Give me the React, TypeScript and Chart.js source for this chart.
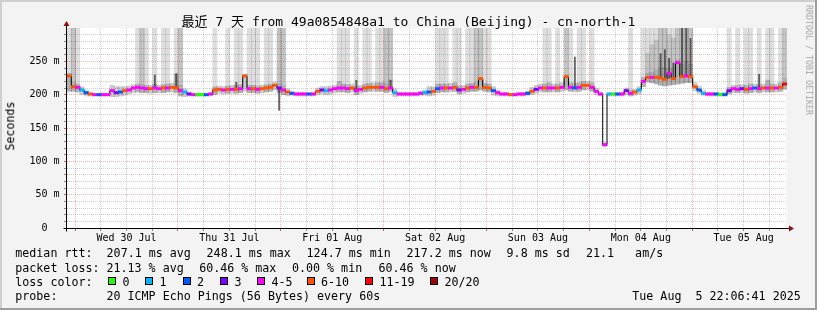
import React, { useEffect, useRef } from "react";
import { Chart, registerables } from "chart.js";

Chart.register(...registerables);

const MONO = "'DejaVu Sans Mono', 'Noto Sans CJK SC', monospace";

// ---------- time axis ----------
const TOTAL_HOURS = 168; // 7 days, one RRA step per hour
const FIRST_MIDNIGHT = 1.888; // hours from graph start to Wed 30 Jul 00:00
const dayLabels = ["Wed 30 Jul", "Thu 31 Jul", "Fri 01 Aug", "Sat 02 Aug", "Sun 03 Aug", "Mon 04 Aug", "Tue 05 Aug"];

// ---------- value axis ----------
const Y_MAX = 300;
const yLabelValues = [0, 50, 100, 150, 200, 250];
const yLabelTexts = ["0  ", "50 m", "100 m", "150 m", "200 m", "250 m"];

// ---------- median rtt (ms), one value per hour ----------
const medianMs = [
  228, 212, 211, 207, 203, 201, 200, 200, 200, 200, 206, 203,
  204, 206, 207, 210, 211, 210, 209, 209, 210, 209, 210, 210,
  211, 210, 206, 204, 201, 200, 200, 200, 200, 201, 207, 208,
  207, 208, 208, 208, 209, 228, 209, 209, 208, 209, 210, 211,
  214, 210, 207, 204, 202, 201, 201, 201, 201, 201, 205, 207,
  206, 207, 209, 210, 210, 209, 210, 206, 208, 210, 211, 211,
  211, 211, 209, 210, 203, 201, 201, 201, 201, 201, 202, 203,
  204, 205, 209, 210, 210, 210, 211, 207, 208, 210, 211, 211,
  224, 211, 210, 206, 203, 201, 201, 200, 200, 201, 201, 202,
  205, 208, 210, 210, 210, 210, 210, 211, 227, 211, 210, 211,
  214, 214, 211, 205, 201, 125, 201, 201, 201, 201, 206, 202,
  204, 207, 220, 226, 226, 226, 225, 223, 232, 224, 248, 227,
  228, 227, 212, 207, 202, 201, 201, 201, 200, 200, 206, 209,
  208, 209, 208, 209, 210, 209, 210, 210, 210, 210, 211, 216,
];

// loss class per hour (index into lossLabels / lossColors)
const lossClass = [
  5, 5, 4, 1, 2, 5, 4, 2, 4, 4, 4, 3,
  2, 5, 4, 4, 4, 4, 4, 5, 4, 4, 5, 4,
  5, 5, 4, 1, 3, 4, 0, 0, 2, 4, 5, 5,
  4, 5, 4, 5, 4, 5, 4, 5, 4, 5, 5, 5,
  5, 3, 4, 5, 2, 4, 4, 4, 2, 4, 5, 3,
  1, 4, 4, 4, 4, 4, 5, 4, 4, 5, 5, 5,
  5, 4, 5, 4, 1, 4, 4, 4, 4, 4, 4, 1,
  2, 5, 2, 4, 5, 4, 5, 3, 4, 5, 4, 5,
  5, 5, 5, 2, 4, 4, 4, 5, 4, 4, 4, 2,
  5, 3, 4, 5, 4, 4, 5, 4, 5, 4, 2, 4,
  5, 5, 4, 4, 4, 4, 1, 0, 2, 4, 3, 4,
  5, 1, 4, 5, 4, 5, 5, 5, 4, 5, 4, 5,
  4, 5, 5, 2, 1, 4, 4, 2, 0, 2, 3, 4,
  4, 3, 5, 4, 2, 4, 5, 4, 5, 4, 5, 6,
];

// smoke band around the median (ms)
const smokeLow = [
  205, 205, 204, 200, 198, 198, 198, 198, 198, 198, 197, 197,
  198, 199, 201, 203, 204, 203, 203, 202, 203, 203, 203, 204,
  204, 203, 198, 197, 198, 198, 198, 198, 198, 198, 200, 202,
  201, 202, 202, 202, 203, 205, 203, 203, 202, 203, 204, 205,
  207, 203, 200, 198, 199, 198, 198, 198, 198, 198, 200, 201,
  200, 201, 203, 204, 204, 203, 204, 200, 202, 204, 205, 205,
  205, 205, 203, 205, 197, 198, 198, 198, 198, 198, 199, 199,
  198, 199, 203, 204, 204, 204, 205, 201, 202, 204, 205, 205,
  207, 205, 204, 199, 198, 198, 198, 198, 198, 198, 198, 199,
  200, 202, 204, 204, 204, 204, 204, 205, 207, 205, 204, 205,
  207, 207, 205, 200, 198, 122, 198, 198, 198, 198, 200, 198,
  199, 201, 212, 219, 218, 216, 214, 213, 214, 215, 216, 217,
  218, 218, 206, 202, 199, 198, 198, 198, 198, 198, 201, 203,
  203, 203, 202, 203, 204, 203, 204, 204, 204, 204, 205, 208,
];
const smokeHigh = [
  232, 218, 216, 212, 206, 203, 202, 202, 202, 202, 214, 212,
  212, 212, 213, 215, 216, 215, 214, 214, 216, 214, 215, 216,
  217, 231, 214, 209, 204, 202, 202, 202, 202, 203, 212, 213,
  212, 213, 214, 214, 215, 231, 214, 214, 213, 214, 215, 216,
  219, 216, 213, 209, 205, 203, 203, 203, 203, 203, 210, 212,
  212, 213, 214, 220, 216, 215, 216, 212, 214, 216, 217, 218,
  218, 218, 216, 222, 209, 203, 203, 203, 203, 203, 205, 207,
  212, 212, 216, 216, 216, 217, 218, 213, 214, 216, 217, 218,
  226, 217, 216, 212, 207, 203, 203, 202, 202, 203, 203, 205,
  211, 214, 216, 216, 218, 216, 216, 218, 229, 218, 217, 218,
  220, 220, 218, 210, 203, 128, 203, 203, 203, 203, 210, 207,
  208, 212, 226, 232, 233, 236, 240, 240, 238, 240, 252, 245,
  250, 245, 218, 213, 206, 203, 203, 203, 203, 203, 211, 214,
  214, 215, 214, 216, 216, 215, 216, 222, 216, 216, 218, 224,
];

// hours whose outlier smoke reaches the top of the graph
const tallSmokeHours = [
  0, 1, 2, 16, 17, 18, 20, 22, 23, 25, 26, 34, 37, 39, 40, 42, 43, 44, 46, 47, 49, 50,
  63, 64, 65, 67, 69, 70, 72, 73, 74, 75, 86, 87, 88, 90, 91, 93, 94, 95, 96, 97, 98,
  111, 112, 114, 116, 117, 119, 120, 122, 131, 134, 135, 136, 137, 138, 139, 140, 141,
  142, 143, 144, 145, 154, 156, 158, 159, 161, 163, 164, 166, 167,
];
// denser outlier smoke: [hour, top ms]
const denseSmoke = [
  [1, 300], [17, 300], [26, 300], [49, 300], [50, 300], [74, 300], [75, 300], [95, 300],
  [96, 300], [116, 300], [135, 262], [136, 275], [137, 282], [138, 300], [139, 300],
  [140, 290], [141, 285], [142, 300], [143, 300], [144, 300], [145, 300], [167, 300],
];
// dark narrow smoke spikes: [hour, low ms, high ms]
const darkSpikes = [
  [20, 210, 230], [25, 210, 232], [39, 208, 219], [49, 176, 210], [67, 206, 222],
  [75, 210, 222], [118, 210, 257], [138, 225, 262], [139, 223, 268], [140, 224, 255],
  [141, 224, 248], [143, 227, 300], [144, 228, 300], [145, 227, 285], [161, 209, 231],
];

const lossLabels = ["0", "1", "2", "3", "4-5", "6-10", "11-19", "20/20"];
const lossColors = ["#26ff00", "#00b8ff", "#0059ff", "#7e00ff", "#ff00ff", "#ff5500", "#ff0000", "#a10000"];

// ---------- texts ----------
const titleText = "最近 7 天 from 49a0854848a1 to China (Beijing) - cn-north-1";
const rttLabel = "median rtt:";
const rttStats = ["207.1 ms avg", "248.1 ms max", "124.7 ms min", "217.2 ms now", "9.8 ms sd", "21.1   am/s"];
const lossLabel = "packet loss:";
const lossStats = ["21.13 % avg", "60.46 % max", "0.00 % min", "60.46 % now"];
const lossColorLabel = "loss color:";
const probeLabel = "probe:";
const probeText = "20 ICMP Echo Pings (56 Bytes) every 60s";
const dateText = "Tue Aug  5 22:06:41 2025";
const yTitle = "Seconds";
const watermark = "RRDTOOL / TOBI OETIKER";

// ---------- layout ----------
const W = 817;
const H = 310;
const rttStatX = [106.6, 206.6, 306.6, 406.6, 506.6, 586];
const lossStatX = [106.5, 199.2, 292, 378.5];
const lossBoxX = [108, 145, 182.5, 220, 257, 306.5, 365, 430];
const LEG_FONT = 11.67;
const lineTops = [248.3, 262.5, 276.5, 290.5];
const SQUARE_HALF = 1.7;

const MAJOR_GRID = "rgba(222,80,80,0.42)";
const MINOR_GRID = "rgba(143,143,143,0.42)";

const xTickHours: number[] = [];
for (let t = FIRST_MIDNIGHT; t < TOTAL_HOURS; t += 6) xTickHours.push(t);
const yTickValues: number[] = [];
for (let v = 0; v <= Y_MAX; v += 10) yTickValues.push(v);

function isMajorX(value: number) {
  return Math.round((value - FIRST_MIDNIGHT) / 6) % 4 === 0;
}

const framePlugin = {
  id: "rrdFrame",
  beforeDraw(chart: any) {
    const { ctx, chartArea: a, width, height } = chart;
    ctx.save();
    ctx.fillStyle = "#f3f3f3";
    ctx.fillRect(0, 0, width, height);
    ctx.fillStyle = "#ffffff";
    ctx.fillRect(a.left, a.top, a.right - a.left, a.bottom - a.top);
    ctx.fillStyle = "#cfcfcf";
    ctx.fillRect(0, 0, width, 2);
    ctx.fillRect(0, 0, 2, height);
    ctx.fillStyle = "#9e9e9e";
    ctx.fillRect(0, height - 2, width, 2);
    ctx.fillRect(width - 2, 0, 2, height);
    ctx.restore();
  },
  afterDatasetsDraw(chart: any) {
    const { ctx, chartArea: a } = chart;
    const ax = a.left - 0.5;
    const ay = a.bottom + 0.5;
    ctx.save();
    ctx.strokeStyle = "#000";
    ctx.lineWidth = 1;
    ctx.beginPath();
    ctx.moveTo(ax, ay + 3);
    ctx.lineTo(ax, a.top - 3);
    ctx.moveTo(ax - 3, ay);
    ctx.lineTo(a.right + 3, ay);
    ctx.stroke();
    ctx.fillStyle = "#8f1010";
    ctx.beginPath();
    ctx.moveTo(ax, a.top - 7);
    ctx.lineTo(ax - 3, a.top - 2);
    ctx.lineTo(ax + 3, a.top - 2);
    ctx.closePath();
    ctx.fill();
    ctx.beginPath();
    ctx.moveTo(a.right + 7, ay);
    ctx.lineTo(a.right + 2, ay - 3);
    ctx.lineTo(a.right + 2, ay + 3);
    ctx.closePath();
    ctx.fill();
    ctx.restore();
  },
};

const barCommon = {
  type: "bar" as const,
  grouped: false,
  barPercentage: 1,
  categoryPercentage: 1,
  borderWidth: 0,
};

export default function App() {
  const ref = useRef<HTMLCanvasElement>(null);

  useEffect(() => {
    const canvas = ref.current;
    if (!canvas) return;

    const tall = tallSmokeHours.map((h) => ({ x: h + 0.5, y: [smokeLow[h], Y_MAX] }));
    const dense = denseSmoke.map(([h, top]) => ({ x: h + 0.5, y: [smokeHigh[h], top] }));
    const band = medianMs.map((_, h) => ({ x: h + 0.5, y: [smokeLow[h], smokeHigh[h]] }));
    const spikes = darkSpikes.map(([h, lo, hi]) => ({ x: h + 0.5, y: [lo, hi] }));
    const line = medianMs.map((m, h) => ({ x: h, y: m }));
    line.push({ x: TOTAL_HOURS, y: medianMs[TOTAL_HOURS - 1] });
    const squares = medianMs.map((m, h) => ({ x: h + 0.5, y: [m - SQUARE_HALF, m + SQUARE_HALF] }));

    const chart = new Chart(canvas, {
      type: "line",
      data: {
        datasets: [
          { ...barCommon, label: "tall smoke", data: tall as any, backgroundColor: "rgba(0,0,0,0.13)", order: 6 },
          { ...barCommon, label: "dense smoke", data: dense as any, backgroundColor: "rgba(0,0,0,0.12)", order: 5 },
          { ...barCommon, label: "smoke", data: band as any, backgroundColor: "rgba(0,0,0,0.2)", order: 4 },
          { ...barCommon, label: "spikes", data: spikes as any, backgroundColor: "rgba(40,40,40,0.7)", barPercentage: 0.45, order: 3 },
          {
            type: "line",
            label: "median",
            data: line as any,
            borderColor: "#000",
            borderWidth: 1,
            pointRadius: 0,
            stepped: true,
            fill: false,
            order: 2,
          },
          {
            ...barCommon,
            label: "median loss",
            data: squares as any,
            backgroundColor: (c: any) => lossColors[lossClass[c.dataIndex]],
            order: 1,
          },
        ] as any,
      },
      options: {
        responsive: false,
        animation: false,
        devicePixelRatio: 1,
        events: [],
        layout: { padding: { top: 28, right: 30, left: 0, bottom: 0 } },
        plugins: { legend: { display: false }, tooltip: { enabled: false }, title: { display: false } },
        scales: {
          x: {
            type: "linear",
            min: 0,
            max: TOTAL_HOURS,
            offset: false,
            afterBuildTicks: (s: any) => {
              s.ticks = xTickHours.map((v) => ({ value: v }));
            },
            afterFit: (s: any) => {
              s.height = H - 228;
            },
            grid: {
              offset: false,
              lineWidth: 1,
              tickLength: 3,
              color: (c: any) => (c.tick && isMajorX(c.tick.value) ? MAJOR_GRID : MINOR_GRID),
              tickColor: (c: any) => (c.tick && isMajorX(c.tick.value) ? "#d06060" : "#8a8a8a"),
            },
            border: { display: false, dash: [1, 1] },
            ticks: {
              autoSkip: false,
              maxRotation: 0,
              minRotation: 0,
              padding: 1.5,
              color: "#000",
              font: { family: MONO, size: 10 },
              callback: (_v: any, i: number) => (i % 4 === 2 ? dayLabels[(i - 2) / 4] : ""),
            },
          },
          y: {
            type: "linear",
            min: 0,
            max: Y_MAX,
            afterBuildTicks: (s: any) => {
              s.ticks = yTickValues.map((v) => ({ value: v }));
            },
            afterFit: (s: any) => {
              s.width = 67;
            },
            grid: {
              lineWidth: 1,
              tickLength: 3,
              color: (c: any) => {
                const v = c.tick ? c.tick.value : 0;
                if (v >= Y_MAX) return "rgba(0,0,0,0)";
                return v % 50 === 0 ? MAJOR_GRID : MINOR_GRID;
              },
              tickColor: (c: any) => {
                const v = c.tick ? c.tick.value : 0;
                if (v >= Y_MAX) return "rgba(0,0,0,0)";
                return v % 50 === 0 ? "#d06060" : "#8a8a8a";
              },
            },
            border: { display: false, dash: [1, 1] },
            ticks: {
              autoSkip: false,
              padding: 4.5,
              color: "#000",
              font: { family: MONO, size: 10 },
              callback: (v: any) => {
                const i = yLabelValues.indexOf(Number(v));
                return i >= 0 ? yLabelTexts[i] : "";
              },
            },
          },
        },
      } as any,
      plugins: [framePlugin],
    });
    return () => chart.destroy();
  }, []);

  const txt = (left: number, top: number, s: string, extra: any = {}) => (
    <div
      key={`${left}-${top}-${s}`}
      style={{
        position: "absolute",
        left,
        top,
        fontFamily: MONO,
        fontSize: LEG_FONT,
        lineHeight: `${LEG_FONT}px`,
        whiteSpace: "pre",
        color: "#000",
        ...extra,
      }}
    >
      {s}
    </div>
  );

  return (
    <div style={{ position: "fixed", left: 0, top: 0, width: W, height: H, overflow: "hidden", background: "#f3f3f3" }}>
      <canvas ref={ref} width={W} height={H} style={{ position: "absolute", left: 0, top: 0, width: W, height: H }} />
      <div
        style={{
          position: "absolute",
          left: 0,
          top: 15,
          width: W,
          textAlign: "center",
          fontFamily: MONO,
          fontSize: 13,
          lineHeight: "13px",
          whiteSpace: "pre",
          color: "#000",
        }}
      >
        {titleText}
      </div>
      <div
        style={{
          position: "absolute",
          left: 11,
          top: 125.5,
          transform: "translate(-50%, -50%) rotate(-90deg)",
          fontFamily: MONO,
          fontSize: LEG_FONT,
          lineHeight: `${LEG_FONT}px`,
          whiteSpace: "pre",
          color: "#000",
        }}
      >
        {yTitle}
      </div>
      <div
        style={{
          position: "absolute",
          left: 808.5,
          top: 60,
          transform: "translate(-50%, -50%) rotate(90deg)",
          fontFamily: MONO,
          fontSize: 8.3,
          lineHeight: "8.3px",
          whiteSpace: "pre",
          color: "#a5a5a5",
        }}
      >
        {watermark}
      </div>

      {txt(15.3, lineTops[0], rttLabel)}
      {rttStats.map((s, i) => txt(rttStatX[i], lineTops[0], s))}

      {txt(15.3, lineTops[1], lossLabel)}
      {lossStats.map((s, i) => txt(lossStatX[i], lineTops[1], s))}

      {txt(15.3, lineTops[2], lossColorLabel)}
      {lossLabels.map((s, i) => (
        <React.Fragment key={s}>
          <div
            style={{
              position: "absolute",
              left: lossBoxX[i],
              top: 277,
              width: 8,
              height: 8,
              boxSizing: "border-box",
              border: "1px solid #000",
              background: lossColors[i],
            }}
          />
          {txt(lossBoxX[i] + 14.5, lineTops[2], s)}
        </React.Fragment>
      ))}

      {txt(15.3, lineTops[3], probeLabel)}
      {txt(106.5, lineTops[3], probeText)}
      {txt(632.3, lineTops[3], dateText)}
    </div>
  );
}
